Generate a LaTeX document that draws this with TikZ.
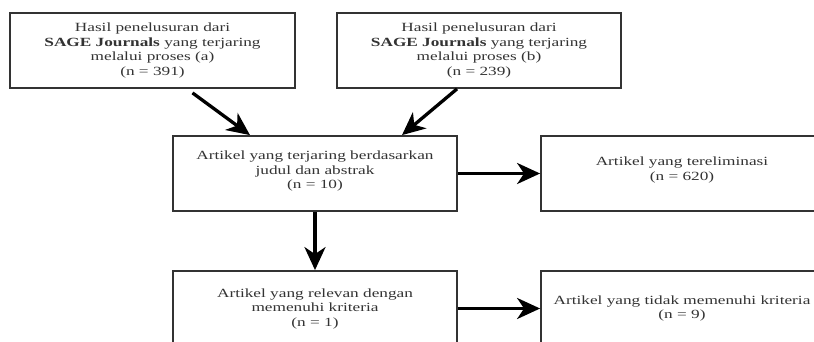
\documentclass[tikz,border=0pt]{standalone}
\usepackage{fontspec}
\setmainfont{Liberation Serif}[FakeStretch=1.38]
\usetikzlibrary{arrows.meta}
\definecolor{txt}{HTML}{333333}
\definecolor{brd}{HTML}{333333}
\tikzset{
  box/.style={draw=brd, line width=1.8pt, fill=white, inner sep=0pt, align=center,
    text=txt, font=\fontsize{12.5pt}{14.5pt}\selectfont, minimum height=75pt},
  flow/.style={line width=3.3pt, -{Stealth[length=23pt,width=21pt,inset=7pt]}}
}
\begin{document}
\begin{tikzpicture}[x=1pt,y=-1pt]
\useasboundingbox (0,0) rectangle (814,342);
\clip (0,0) rectangle (814,342);
\fill[white] (0,0) rectangle (814,342);
\node[box, minimum width=285pt] (A) at (152.5,50.5)
  {Hasil penelusuran dari\\\textbf{SAGE Journals} yang terjaring\\melalui proses (a)\\(n = 391)};
\node[box, minimum width=284pt] (B) at (479,50.5)
  {Hasil penelusuran dari\\\textbf{SAGE Journals} yang terjaring\\melalui proses (b)\\(n = 239)};
\node[box, minimum width=284pt] (C) at (315,173.5)
  {Artikel yang terjaring berdasarkan\\judul dan abstrak\\(n = 10)\\[-7.5pt]};
\node[box, minimum width=282pt] (D) at (682,173.5)
  {Artikel yang tereliminasi\\(n = 620)\\[-4.5pt]};
\node[box, minimum width=284pt] (E) at (315,308.5)
  {Artikel yang relevan dengan\\memenuhi kriteria\\(n = 1)};
\node[box, minimum width=282pt] (F) at (682,308.5)
  {Artikel yang tidak memenuhi kriteria\\(n = 9)};
\draw[flow] ([xshift=40pt,yshift=-4pt]A.south) -- ([xshift=-65pt]C.north);
\draw[flow] ([xshift=-22pt]B.south) -- ([xshift=87pt]C.north);
\draw[flow] (C.east) -- (D.west);
\draw[flow] (C.south) -- (E.north);
\draw[flow] (E.east) -- (F.west);
\end{tikzpicture}
\end{document}
